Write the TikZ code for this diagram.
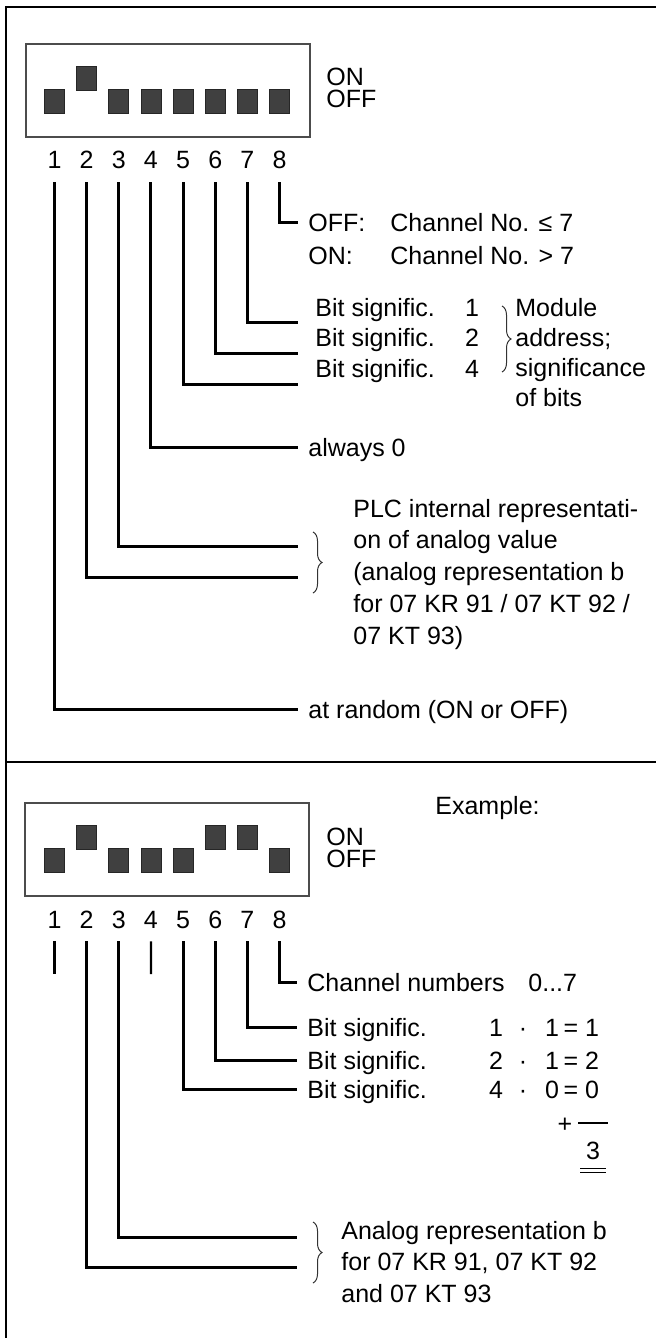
\documentclass[tikz,border=0pt]{standalone}
\usepackage{fontspec}
\setmainfont{Liberation Sans}
\usetikzlibrary{decorations.pathreplacing}

\begin{document}
\begin{tikzpicture}[x=0.5pt,y=-0.5pt,
  txt/.style={font=\fontsize{12.5pt}{15pt}\selectfont, inner sep=0pt, text height=9pt, text depth=0pt, anchor=west},
  num/.style={txt, anchor=center},
  lbl/.style={txt, inner xsep=5pt},
  sw/.style={draw=black!85, line width=0.4pt, fill=black!75, minimum width=10pt, minimum height=12pt, inner sep=0pt},
  dipbox/.style={draw=black!70, line width=0.7pt},
  lead/.style={line width=1.5pt},
  stub/.style={line width=1.1pt},
  frame/.style={line width=1pt},
  brc/.style={decorate, decoration={brace, amplitude=4.5pt}, line width=0.5pt, black!80}]
\useasboundingbox (0,0) rectangle (656,1338);
% Frame
\draw[frame] (656,7) -- (6,7) -- (6,1338);
\draw[frame] (6,762) -- (656,762);
% Switch (top)
\draw[dipbox] (26,44) rectangle (310,137);
\foreach \st [count=\i] in {0,1,0,0,0,0,0,0}
  \node[sw] (sa\i) at ({54.5+32.14*(\i-1)},{101.8-23.5*\st}) {};
\node[txt] (ona) at (326,77) {ON};
\node[txt] (offa) at (326,99) {OFF};
\foreach \i in {1,...,8}
  \node[num] (na\i) at ({54.5+32.14*(\i-1)},160) {\i};
% Channel
\node[lbl] (cha) at (298,222) {OFF:};
\node[txt] (chna) at (390,222) {Channel No. ≤ 7};
\node[lbl] (chb) at (298,255) {ON:};
\node[txt] (chnb) at (390,255) {Channel No. > 7};
\draw[lead] ([yshift=-6.5pt]na8.south) |- (cha.west);
% Module address
\foreach \wt [count=\k] in {1,2,4} {
  \node[txt] (bita\k) at (315,{307+30.5*(\k-1)}) {Bit signific.};
  \node[num] (wa\k) at (472,{307+30.5*(\k-1)}) {\wt};
}
\coordinate (ea7) at (298,322);
\coordinate (ea6) at (298,353);
\coordinate (ea5) at (298,384);
\draw[lead] ([yshift=-6.5pt]na7.south) |- (ea7);
\draw[lead] ([yshift=-6.5pt]na6.south) |- (ea6);
\draw[lead] ([yshift=-6.5pt]na5.south) |- (ea5);
\draw[brc] (502,306) -- (502,372);
\foreach \linetext [count=\k] in {Module, address;, significance, of bits}
  \node[txt] (moda\k) at (515,{307+30*(\k-1)}) {\linetext};
% always 0
\node[lbl] (zero) at (298,447) {always 0};
\draw[lead] ([yshift=-6.5pt]na4.south) |- (zero.west);
% PLC representation
\coordinate (ea3) at (298,546);
\coordinate (ea2) at (298,577);
\draw[lead] ([yshift=-6.5pt]na3.south) |- (ea3);
\draw[lead] ([yshift=-6.5pt]na2.south) |- (ea2);
\draw[brc] (313,532) -- (313,593);
\foreach \linetext [count=\k] in {{PLC internal representati-},{on of analog value},{(analog representation b},{for 07 KR 91 / 07 KT 92 /},{07 KT 93)}}
  \node[txt] (plc\k) at (353,{508+31.75*(\k-1)}) {\linetext};
% at random
\node[lbl] (rnd) at (298,709) {at random (ON or OFF)};
\draw[lead] ([yshift=-6.5pt]na1.south) |- (rnd.west);

% Example (bottom)
\node[txt] (expl) at (435,805) {Example:};
\draw[dipbox] (25,803) rectangle (309,896);
\foreach \st [count=\i] in {0,1,0,0,0,1,1,0}
  \node[sw] (sb\i) at ({54.5+32.14*(\i-1)},{860.8-23.5*\st}) {};
\node[txt] (onb) at (326,836) {ON};
\node[txt] (offb) at (326,858) {OFF};
\foreach \i in {1,...,8}
  \node[num] (nb\i) at ({54.5+32.14*(\i-1)},919) {\i};
% short stubs
\coordinate (zb1) at (54.5,974);
\coordinate (zb4) at (150.9,974);
\draw[stub] ([yshift=-6.5pt]nb1.south) -- (zb1);
\draw[stub] ([yshift=-6.5pt]nb4.south) -- (zb4);
% Channel numbers
\node[lbl] (chan) at (297,982) {Channel numbers};
\node[txt] (chrng) at (528,982) {0...7};
\draw[lead] ([yshift=-6.5pt]nb8.south) |- (chan.west);
% Bit significance
\foreach \wt/\bv/\rs/\yy/\ix [count=\k] in {1/1/1/1027/7, 2/1/2/1060/6, 4/0/0/1089/5} {
  \node[lbl] (bitb\k) at (297,\yy) {Bit signific.};
  \node[num] (wb\k) at (496,\yy) {\wt};
  \node[num] (dt\k) at (523,\yy) {·};
  \node[num] (vb\k) at (552,\yy) {\bv};
  \node[num] (eq\k) at (571,\yy) {=};
  \node[num] (rb\k) at (592,\yy) {\rs};
  \draw[lead] ([yshift=-6.5pt]nb\ix.south) |- (bitb\k.west);
}
% Sum
\node[num] (plus) at (565,1123) {+};
\draw[line width=1.1pt] (578,1123) -- (608,1123);
\node[num] (sum) at (593,1150) {3};
\draw[line width=0.5pt] (580,1168) -- (606,1168) (580,1172) -- (606,1172);
% Analog representation
\coordinate (eb3) at (297,1237);
\coordinate (eb2) at (297,1267);
\draw[lead] ([yshift=-6.5pt]nb3.south) |- (eb3);
\draw[lead] ([yshift=-6.5pt]nb2.south) |- (eb2);
\draw[brc] (313,1222) -- (313,1283);
\foreach \linetext [count=\k] in {{Analog representation b},{for 07 KR 91, 07 KT 92},{and 07 KT 93}}
  \node[txt] (ana\k) at (341,{1230+31.5*(\k-1)}) {\linetext};
\end{tikzpicture}
\end{document}
